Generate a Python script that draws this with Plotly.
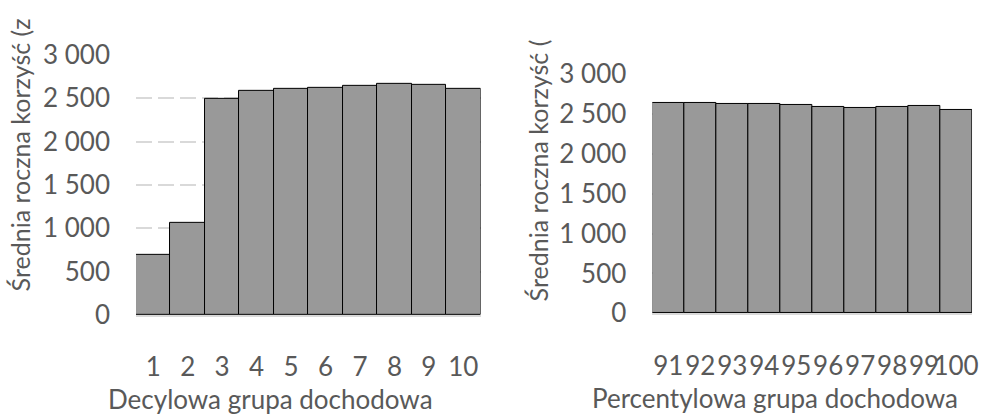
import plotly.graph_objects as go

# Average annual benefit by income group (PLN)
decile_groups = ["1", "2", "3", "4", "5", "6", "7", "8", "9", "10"]
decile_benefit = [690, 1060, 2495, 2590, 2613, 2625, 2648, 2662, 2656, 2613]

percentile_groups = ["91", "92", "93", "94", "95", "96", "97", "98", "99", "100"]
percentile_benefit = [2635, 2631, 2624, 2620, 2608, 2589, 2578, 2585, 2596, 2550]

y_tick_values = [0, 500, 1000, 1500, 2000, 2500, 3000]
y_tick_labels = ["0", "500", "1 000", "1 500", "2 000", "2 500", "3 000"]

y_title = "Średnia roczna korzyść (zł)"
x_title_left = "Decylowa grupa dochodowa"
x_title_right = "Percentylowa grupa dochodowa"

W, H = 986, 416
FONT = "Lato"
TEXT = "#595959"
GRID = "#d9d9d9"
BAR = "#999999"

fig = go.Figure()
fig.add_trace(go.Bar(x=decile_groups, y=decile_benefit, xaxis="x", yaxis="y",
                     marker=dict(color=BAR, line=dict(color="#000000", width=1))))
fig.add_trace(go.Bar(x=percentile_groups, y=percentile_benefit, xaxis="x2", yaxis="y2",
                     marker=dict(color=BAR, line=dict(color="#000000", width=1))))


def px_x(p):
    return p / W


def px_y(p):
    return 1 - p / H


xcommon = dict(type="category", tickmode="array", tickangle=0, showgrid=False,
               zeroline=False, showline=True, linecolor=GRID, linewidth=2,
               ticks="", ticklabelstandoff=28,
               tickfont=dict(family=FONT, size=26, color=TEXT))
ycommon = dict(range=[0, 3000], tickmode="array", tickvals=y_tick_values,
               ticktext=y_tick_labels, showgrid=True, gridcolor=GRID, gridwidth=2,
               griddash="16px,6px", zeroline=False, showline=False, ticks="",
               ticklabelstandoff=25,
               tickfont=dict(family=FONT, size=26, color=TEXT))

fig.update_layout(
    width=W, height=H,
    margin=dict(l=0, r=0, t=0, b=0),
    paper_bgcolor="white", plot_bgcolor="white",
    showlegend=False, bargap=0,
    font=dict(family=FONT, color=TEXT),
    xaxis=dict(xcommon, domain=[px_x(137), px_x(484)], anchor="y",
               tickvals=decile_groups, ticktext=decile_groups),
    yaxis=dict(ycommon, domain=[px_y(322.7), px_y(41)], anchor="x"),
    xaxis2=dict(xcommon, domain=[px_x(657), px_x(979)], anchor="y2",
                tickvals=percentile_groups, ticktext=percentile_groups),
    yaxis2=dict(ycommon, domain=[px_y(321), px_y(61.7)], anchor="x2"),
)

x_title_font = dict(family=FONT, size=26, color=TEXT)
y_title_font = dict(family=FONT, size=25, color=TEXT)
# Axis titles; the vertical ones run off the top edge of the canvas
fig.add_annotation(text=x_title_left, x=px_x(272), y=px_y(414), xref="paper", yref="paper",
                   xanchor="center", yanchor="middle", showarrow=False, font=x_title_font)
fig.add_annotation(text=x_title_right, x=px_x(781), y=px_y(413), xref="paper", yref="paper",
                   xanchor="center", yanchor="middle", showarrow=False, font=x_title_font)
fig.add_annotation(text=y_title[:-2], x=px_x(20), y=px_y(149), xref="paper", yref="paper",
                   xanchor="center", yanchor="middle", textangle=-90, showarrow=False,
                   font=y_title_font)
fig.add_annotation(text=y_title[:-3], x=px_x(542), y=px_y(166), xref="paper", yref="paper",
                   xanchor="center", yanchor="middle", textangle=-90, showarrow=False,
                   font=y_title_font)

fig.write_html("out.html")
